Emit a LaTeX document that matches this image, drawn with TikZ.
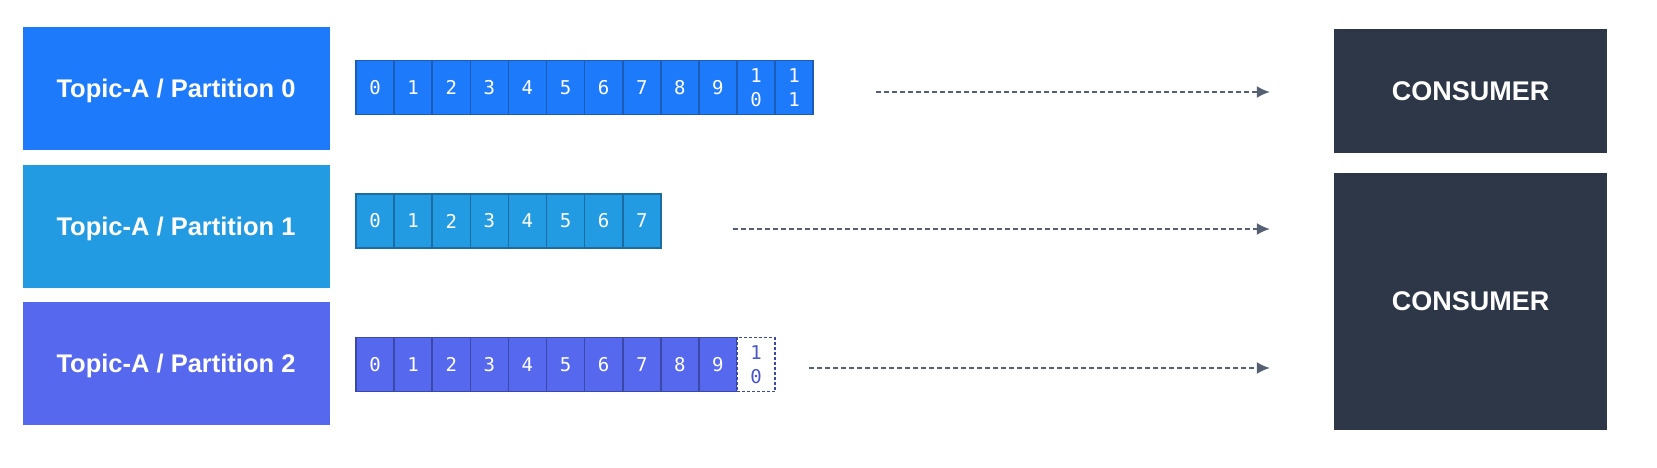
\documentclass[tikz,border=0pt]{standalone}
\usepackage{fontspec}
\setmainfont{Liberation Sans}
\newfontfamily\cellfont{DejaVu Sans Mono}
\usepackage{tikz}
\usetikzlibrary{arrows.meta}
\usetikzlibrary{calc}
\usetikzlibrary{positioning}

\begin{document}
\begin{tikzpicture}[x=1pt,y=-1pt]
  \definecolor{pzero}{HTML}{1C7AFB}
  \definecolor{pone}{HTML}{239BE3}
  \definecolor{ptwo}{HTML}{5668ED}
  \definecolor{pzeroline}{HTML}{1A5CB8}
  \definecolor{poneline}{HTML}{1B6CA3}
  \definecolor{ptwoline}{HTML}{3A48A8}
  \definecolor{consumer}{HTML}{2D3748}
  \definecolor{flowcol}{HTML}{566073}
  \tikzset{>={Latex[length=13pt,width=12pt]}} % triangle heads
  \tikzstyle{topic}=[text=white, font=\fontsize{25.5}{30}\selectfont\bfseries, text depth=0pt, minimum width=307pt, minimum height=123pt, inner sep=0pt]
  \tikzstyle{group}=[fill=consumer, text=white, font=\fontsize{27}{32}\selectfont\bfseries, minimum width=273pt, inner sep=0pt]
  \tikzstyle{cell}=[text=white, font=\cellfont\fontsize{19}{24}\selectfont, align=center, minimum width=38.1pt, minimum height=54pt, inner sep=0pt, line width=1.6pt]
  \tikzstyle{flow}=[->, flowcol, line width=1.6pt, dash pattern=on 5pt off 3pt]

  % CONSTANTS
  \def\lft{356}
  \def\cw{38.1}

  \useasboundingbox (0,0) rectangle (1657,468);

  % Partitions
  \node[topic, fill=pzero] (p0) at (176,88.5) {Topic-A / Partition 0};
  \node[topic, fill=pone] (p1) at (176,226) {Topic-A / Partition 1};
  \node[topic, fill=ptwo] (p2) at (176,363) {Topic-A / Partition 2};

  % Consumers
  \node[group, minimum height=124pt] (cons1) at (1470.5,91) {CONSUMER};
  \node[group, minimum height=257pt] (cons2) at (1470.5,301.5) {CONSUMER};

  % Logs
  \foreach \i [evaluate={\x=\lft+(\i+0.5)*\cw;}] in {0,...,9}{
      \node[cell, fill=pzero, draw=pzeroline] (l0-\i) at (\x,87.5) {\i};
      \node[cell, fill=ptwo, draw=ptwoline] (l2-\i) at (\x,364.5) {\i};
    }
  \foreach \i [evaluate={\x=\lft+(\i+0.5)*\cw;}] in {10,11}{
      \node[cell, fill=pzero, draw=pzeroline] (l0-\i) at (\x,87.5) {1\\\ifnum\i=10 0\else 1\fi};
    }
  \foreach \i [evaluate={\x=\lft+(\i+0.5)*\cw;}] in {0,...,7}{
      \node[cell, fill=pone, draw=poneline] (l1-\i) at (\x,221) {\i};
    }
  \node[cell, fill=white, draw=ptwoline, dash pattern=on 3pt off 2pt, text=ptwo!85!black] (l2-10) at ({\lft+10.5*\cw},364.5) {1\\0};

  % Reads
  \coordinate (s0) at ([shift={(62,4.5)}]l0-11.east);
  \coordinate (s1) at ([shift={(71,8)}]l1-7.east);
  \coordinate (s2) at ([shift={(33,3.5)}]l2-10.east);
  \draw[flow, shorten >=64pt] (s0) -- (s0 -| cons1.west);
  \draw[flow, shorten >=64pt] (s1) -- (s1 -| cons2.west);
  \draw[flow, shorten >=64pt] (s2) -- (s2 -| cons2.west);

\end{tikzpicture}
\end{document}
